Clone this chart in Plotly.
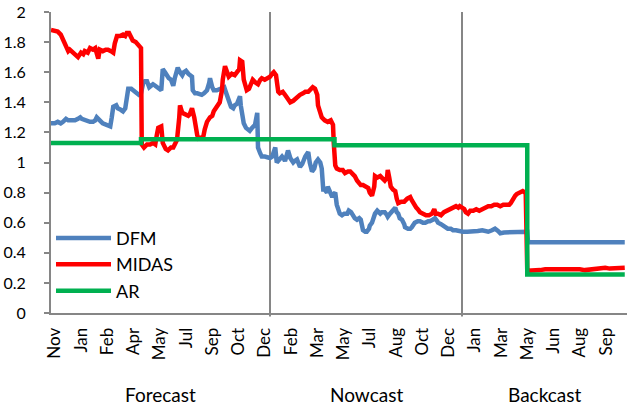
import plotly.graph_objects as go

# x = observation (trading-day) index
dfm_obs = [0,5,9,13,16,20,23,27,29,32,36,39,41,45,48,52,56,59,61,64,67,69,73,76,79,81,83,87,89,93,96,99,101,103,107,109,112,115,117,120,123,125,128,131,133,136,139,141,144,147,148,149,152,155,157,160,163,165,168,169,172,175,177,180,183,185,188,189,192,195,199,201,204,208,211,212,215,217,221,225,228,231,233,235,237,240,243,245,248,251,252,253,255,257,260,263,265,268,272,275,276,279,281,285,289,292,295,297,299,301,304,308,311,312,315,316,319,323,325,328,332,335,339,341,343,345,348,351,353,356,359,361,363,365,368,369,372,375,377,379,381,383,385,388,391,395,397,400,403,405,408,411,413,415,416,419,421,424,425,428,429,432,435,437,439,441,445,448,449,452,455,457,459,461,463,465,468,471,472,476,479,481,484,485,489,492,496,499,503,505,509,512,515,516,520,523,527,529,533,536,540,545,549,555,559,564,569,575,579,583,588,592,596,599,604,609,615,620,625,632,635,636,645,659,672,685,699,712,725,739,752,765]
dfm_val = [1.26,1.26,1.27,1.26,1.27,1.29,1.28,1.28,1.28,1.28,1.29,1.30,1.29,1.28,1.28,1.27,1.27,1.28,1.30,1.28,1.27,1.26,1.25,1.24,1.24,1.30,1.37,1.38,1.36,1.35,1.34,1.36,1.42,1.49,1.49,1.48,1.47,1.46,1.45,1.46,1.53,1.54,1.54,1.50,1.51,1.52,1.51,1.50,1.49,1.48,1.55,1.62,1.60,1.57,1.56,1.55,1.51,1.56,1.62,1.63,1.60,1.58,1.60,1.61,1.59,1.58,1.57,1.48,1.46,1.46,1.45,1.45,1.46,1.48,1.53,1.56,1.50,1.48,1.48,1.49,1.50,1.50,1.47,1.44,1.40,1.37,1.36,1.38,1.39,1.43,1.44,1.38,1.33,1.26,1.23,1.22,1.21,1.23,1.25,1.33,1.10,1.06,1.04,1.04,1.03,1.03,1.04,1.07,1.10,1.00,1.02,1.04,1.02,1.01,1.06,1.08,1.03,1.00,1.01,1.02,0.97,0.99,1.04,1.06,1.07,1.00,0.94,0.96,1.00,1.02,1.00,0.96,0.82,0.82,0.80,0.84,0.80,0.77,0.79,0.80,0.72,0.68,0.66,0.65,0.66,0.66,0.68,0.67,0.64,0.63,0.62,0.63,0.62,0.57,0.55,0.54,0.54,0.56,0.58,0.60,0.62,0.66,0.68,0.67,0.66,0.67,0.67,0.65,0.64,0.66,0.68,0.69,0.70,0.67,0.66,0.63,0.62,0.59,0.57,0.56,0.56,0.57,0.59,0.60,0.61,0.61,0.60,0.60,0.61,0.61,0.62,0.63,0.61,0.60,0.59,0.58,0.57,0.56,0.56,0.55,0.55,0.54,0.54,0.54,0.54,0.545,0.545,0.55,0.545,0.54,0.55,0.56,0.545,0.53,0.535,0.535,0.54,0.54,0.535,0.54,0.54,0.47,0.47,0.47,0.47,0.47,0.472,0.472,0.47,0.47,0.47,0.47]

midas_obs = [0,5,9,13,16,19,23,25,29,33,36,40,43,45,49,52,56,59,61,63,65,69,73,76,80,83,85,88,92,96,99,101,104,107,109,113,116,119,120,121,124,128,132,136,139,141,143,147,148,149,153,156,160,163,165,168,171,172,175,179,183,185,188,191,192,195,197,203,205,208,212,215,217,220,223,225,228,229,232,235,237,241,245,248,251,252,255,257,259,261,264,267,269,273,276,279,281,285,289,292,295,297,300,303,305,309,312,316,319,323,325,329,332,336,339,343,345,349,352,355,356,359,361,365,369,373,376,377,379,381,385,389,392,396,399,403,405,408,411,413,416,420,423,425,428,431,432,435,439,441,445,448,449,451,453,456,459,461,463,467,471,475,479,481,484,487,489,492,496,500,504,508,511,513,516,520,524,528,532,536,540,543,545,548,551,553,556,559,563,567,571,575,579,583,587,591,595,599,603,607,611,613,616,619,621,625,629,632,633,635,639,645,652,659,665,672,679,685,692,699,705,712,719,725,732,739,745,752,759,765]
midas_val = [1.88,1.87,1.87,1.85,1.82,1.79,1.74,1.75,1.73,1.72,1.70,1.73,1.72,1.74,1.73,1.76,1.75,1.76,1.73,1.69,1.75,1.74,1.75,1.75,1.74,1.73,1.79,1.84,1.84,1.85,1.84,1.86,1.86,1.83,1.81,1.80,1.78,1.77,1.76,1.12,1.10,1.12,1.12,1.13,1.12,1.18,1.23,1.24,1.20,1.13,1.09,1.08,1.10,1.10,1.12,1.15,1.30,1.38,1.33,1.32,1.31,1.32,1.36,1.30,1.26,1.18,1.16,1.17,1.22,1.27,1.30,1.31,1.34,1.36,1.38,1.40,1.48,1.55,1.64,1.58,1.57,1.59,1.58,1.60,1.62,1.68,1.67,1.55,1.51,1.48,1.49,1.53,1.55,1.53,1.52,1.55,1.56,1.55,1.56,1.57,1.59,1.60,1.58,1.47,1.46,1.47,1.45,1.42,1.40,1.41,1.42,1.43,1.45,1.46,1.47,1.47,1.48,1.50,1.49,1.45,1.38,1.33,1.30,1.28,1.27,1.28,1.25,1.13,0.98,0.96,0.95,0.95,0.93,0.94,0.94,0.92,0.91,0.88,0.86,0.85,0.85,0.84,0.83,0.80,0.78,0.84,0.91,0.90,0.91,0.90,0.88,0.90,0.95,0.90,0.84,0.82,0.81,0.76,0.73,0.74,0.74,0.76,0.77,0.75,0.72,0.70,0.69,0.67,0.66,0.65,0.65,0.66,0.69,0.66,0.66,0.65,0.67,0.68,0.69,0.70,0.71,0.70,0.71,0.70,0.69,0.67,0.66,0.68,0.68,0.69,0.68,0.69,0.70,0.71,0.71,0.72,0.72,0.71,0.72,0.72,0.72,0.73,0.76,0.78,0.79,0.80,0.81,0.80,0.79,0.28,0.28,0.285,0.285,0.29,0.29,0.29,0.29,0.295,0.295,0.29,0.29,0.285,0.29,0.29,0.295,0.30,0.295,0.295,0.30,0.30]

ar_obs = [0, 120, 378, 635, 765]
ar_val = [1.13, 1.155, 1.115, 0.255, 0.255]

tick_obs = [5 + 35 * k for k in range(22)]
tick_text = ["Nov", "Jan", "Feb", "Apr", "May", "Jul", "Sep", "Oct", "Dec",
             "Feb", "Mar", "May", "Jul", "Aug", "Oct", "Dec",
             "Jan", "Mar", "May", "Jun", "Aug", "Sep"]

section_names = ["Forecast", "Nowcast", "Backcast"]
section_bounds = [0, 292, 548, 768]

FONT = "Lato, 'Open Sans', sans-serif"
GREY = "#868686"

fig = go.Figure()
fig.add_trace(go.Scatter(x=dfm_obs, y=dfm_val, mode="lines", name="DFM",
                         line=dict(color="#4F81BD", width=4.5)))
fig.add_trace(go.Scatter(x=midas_obs, y=midas_val, mode="lines", name="MIDAS",
                         line=dict(color="#FF0000", width=4.5)))
fig.add_trace(go.Scatter(x=ar_obs, y=ar_val, mode="lines", name="AR",
                         line=dict(color="#00B050", width=4.5, shape="hv")))

for b in section_bounds[1:3]:
    fig.add_shape(type="line", xref="x", yref="paper", x0=b, x1=b, y0=-0.012, y1=1,
                  line=dict(color=GREY, width=2), layer="below")

for i, name in enumerate(section_names):
    fig.add_annotation(x=(section_bounds[i] + section_bounds[i + 1]) / 2, xref="x",
                       y=-0.272, yref="paper", text=name, showarrow=False,
                       font=dict(family=FONT, size=19, color="#000000"),
                       xanchor="center", yanchor="middle")

fig.update_layout(
    width=627, height=409,
    margin=dict(l=51, r=0, t=12, b=96, autoexpand=False),
    paper_bgcolor="white", plot_bgcolor="white",
    font=dict(family=FONT, size=16, color="#000000"),
    showlegend=True,
    legend=dict(x=0.0, y=0.31, xanchor="left", yanchor="top",
                bgcolor="rgba(0,0,0,0)", font=dict(family=FONT, size=18),
                itemwidth=55, tracegroupgap=0),
    xaxis=dict(range=[0, 768], tickmode="array", tickvals=tick_obs, ticktext=tick_text,
               tickangle=-90, showgrid=False, zeroline=False, showline=True,
               linecolor=GREY, linewidth=2, ticks="", tickfont=dict(size=17),
               ticklabelstandoff=6, automargin=False),
    yaxis=dict(range=[0, 2], dtick=0.2, tick0=0, showgrid=False, zeroline=False,
               showline=True, linecolor=GREY, linewidth=2, ticks="outside",
               ticklen=5, tickcolor=GREY, tickwidth=1.5, ticklabelstandoff=15,
               tickfont=dict(size=16), automargin=False),
)

fig.write_html("out.html", config={"displayModeBar": False},
               post_script="document.body.style.margin='0';")
